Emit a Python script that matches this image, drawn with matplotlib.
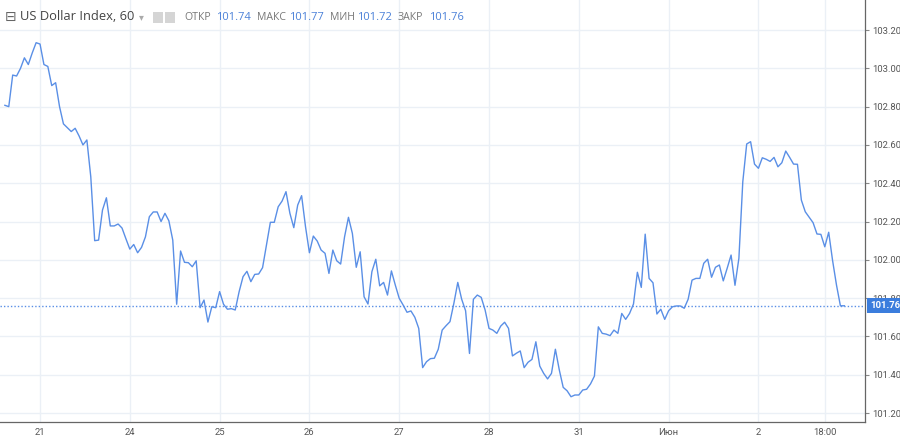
import matplotlib
matplotlib.use("Agg")
import matplotlib.pyplot as plt
import matplotlib.patches as patches

# hourly closes, US Dollar Index, 60 min bars
close = [
    102.807, 102.80, 102.965, 102.96, 103.00, 103.055, 103.02, 103.08, 103.134, 103.127,
    103.02, 103.01, 102.91, 102.925, 102.80, 102.71, 102.69, 102.67, 102.687, 102.647,
    102.60, 102.626, 102.434, 102.10, 102.103, 102.26, 102.324, 102.177, 102.177, 102.187,
    102.166, 102.11, 102.056, 102.08, 102.037, 102.065, 102.12,
    102.225, 102.25, 102.25, 102.20, 102.243, 102.204, 102.103, 101.768, 102.046, 101.987,
    101.985, 101.964, 101.995, 101.75, 101.79, 101.675, 101.755, 101.75, 101.834, 101.768,
    101.742, 101.745, 101.738, 101.834, 101.912, 101.94, 101.886, 101.924, 101.926, 101.959,
    102.077, 102.196, 102.196, 102.277, 102.307, 102.356,
    102.243, 102.168, 102.286, 102.335, 102.173, 102.037, 102.124, 102.098, 102.051, 102.034,
    101.929, 102.051, 101.995, 101.978, 102.12, 102.222, 102.138, 101.961, 102.042, 101.807,
    101.769, 101.938, 102.003, 101.864, 101.882, 101.816, 101.942, 101.868, 101.799, 101.764,
    101.726, 101.733, 101.70, 101.642, 101.437,
    101.468, 101.484, 101.486, 101.533, 101.633, 101.656, 101.677, 101.773, 101.882, 101.794,
    101.734, 101.511, 101.794, 101.816, 101.804, 101.738, 101.642, 101.633, 101.616, 101.654,
    101.674, 101.642, 101.498, 101.512, 101.524, 101.437, 101.465, 101.48, 101.572, 101.445,
    101.407, 101.378, 101.407, 101.533, 101.425, 101.334, 101.316, 101.285,
    101.294, 101.294, 101.32, 101.324, 101.352, 101.393, 101.65, 101.616, 101.612, 101.604,
    101.633, 101.616, 101.72, 101.689, 101.72, 101.769, 101.935, 101.856, 102.134, 101.903,
    101.88, 101.717, 101.742, 101.689, 101.734, 101.755, 101.759, 101.759, 101.747, 101.794,
    101.894, 101.903, 101.903, 101.982, 102.003,
    101.909, 101.961, 101.973, 101.89, 101.956, 102.025, 101.867, 102.008, 102.408, 102.605,
    102.617, 102.50, 102.478, 102.533, 102.525, 102.514, 102.535, 102.486, 102.507, 102.568,
    102.535, 102.50, 102.499, 102.312, 102.251, 102.222, 102.194, 102.135, 102.133, 102.068,
    102.144, 101.996, 101.868, 101.76, 101.76,
]

# time axis labels and the bar they sit on
time_labels = ["21", "24", "25", "26", "27", "28", "31", "Июн", "2", "18:00"]
time_bars = [9, 32, 55, 78, 101, 124, 147, 170, 193, 210]

price_ticks = [101.20, 101.40, 101.60, 101.80, 102.00, 102.20, 102.40, 102.60, 102.80, 103.00, 103.20]

# header values
ohlc_names = ["ОТКР", "МАКС", "МИН", "ЗАКР"]
ohlc_values = ["101.74", "101.77", "101.72", "101.76"]
last_price = 101.76

line_blue = "#5a8fe6"
grid_col = "#ebf0f6"
text_gray = "#555555"
tick_font = "Roboto"

W, H = 900, 438
fig = plt.figure(figsize=(W / 100, H / 100), dpi=100)
fig.patch.set_facecolor("white")
ax = fig.add_axes([0.0, 1 - 422 / H, 865 / W, 422 / H])

x = list(range(len(close)))
ax.plot(x, close, color=line_blue, linewidth=1.0, zorder=3)
ax.axhline(last_price, color=line_blue, linewidth=1.0, linestyle=(0, (1, 1.5)), zorder=2)

ax.set_xlim(-1.25, 220.3)
ax.set_ylim(101.153, 103.357)

ax.set_xticks(time_bars)
ax.set_xticklabels(time_labels, family=tick_font, fontsize=6.8, color=text_gray)
ax.set_yticks(price_ticks)
ax.set_yticklabels([f"{v:.2f}" for v in price_ticks], family=tick_font, fontsize=6.8, color=text_gray)
ax.yaxis.tick_right()
ax.tick_params(axis="y", length=3, width=0.8, color="#888888", pad=2)
ax.tick_params(axis="x", length=0, pad=4)
ax.grid(True, color=grid_col, linewidth=1.0, zorder=0)

for side in ["top", "left"]:
    ax.spines[side].set_visible(False)
for side in ["right", "bottom"]:
    ax.spines[side].set_color("#666666")
    ax.spines[side].set_linewidth(0.9)

# last price tag on the right scale, drawn over the 101.80 label
ax.annotate(
    f"{last_price:.2f}",
    xy=(1.0, last_price),
    xycoords=("axes fraction", "data"),
    xytext=(3.5, 0),
    textcoords="offset points",
    va="center",
    ha="left",
    fontsize=6.8,
    fontweight="bold",
    family=tick_font,
    color="white",
    bbox=dict(boxstyle="square,pad=0.3", fc="#3b7ddd", ec="none"),
    annotation_clip=False,
    zorder=10,
)

# header line
ty = 1 - 17 / H
fig.text(5 / W, ty, "⊟", fontsize=10, color="#666666", va="center", family="DejaVu Sans")
fig.text(20 / W, ty, "US Dollar Index, 60", fontsize=9.3, color="#444444", va="center", family="Open Sans")
fig.text(139 / W, ty, "▾", fontsize=7, color="#aaaaaa", va="center", family="DejaVu Sans")
for px in [153, 165]:
    fig.patches.append(
        patches.Rectangle((px / W, 1 - 23 / H), 10 / W, 11 / H, transform=fig.transFigure,
                          facecolor="#d5d5d5", edgecolor="none")
    )

name_px = [184, 257, 330, 398]
value_px = [216, 289, 357, 429]
for name, val, nx, vx in zip(ohlc_names, ohlc_values, name_px, value_px):
    fig.text(nx / W, ty, name, fontsize=7.6, color="#777777", va="center", family="Open Sans")
    fig.text(vx / W, ty, val, fontsize=8.0, color="#4a80d8", va="center", family="Open Sans")

fig.savefig("out.png", dpi=100, facecolor="white")
